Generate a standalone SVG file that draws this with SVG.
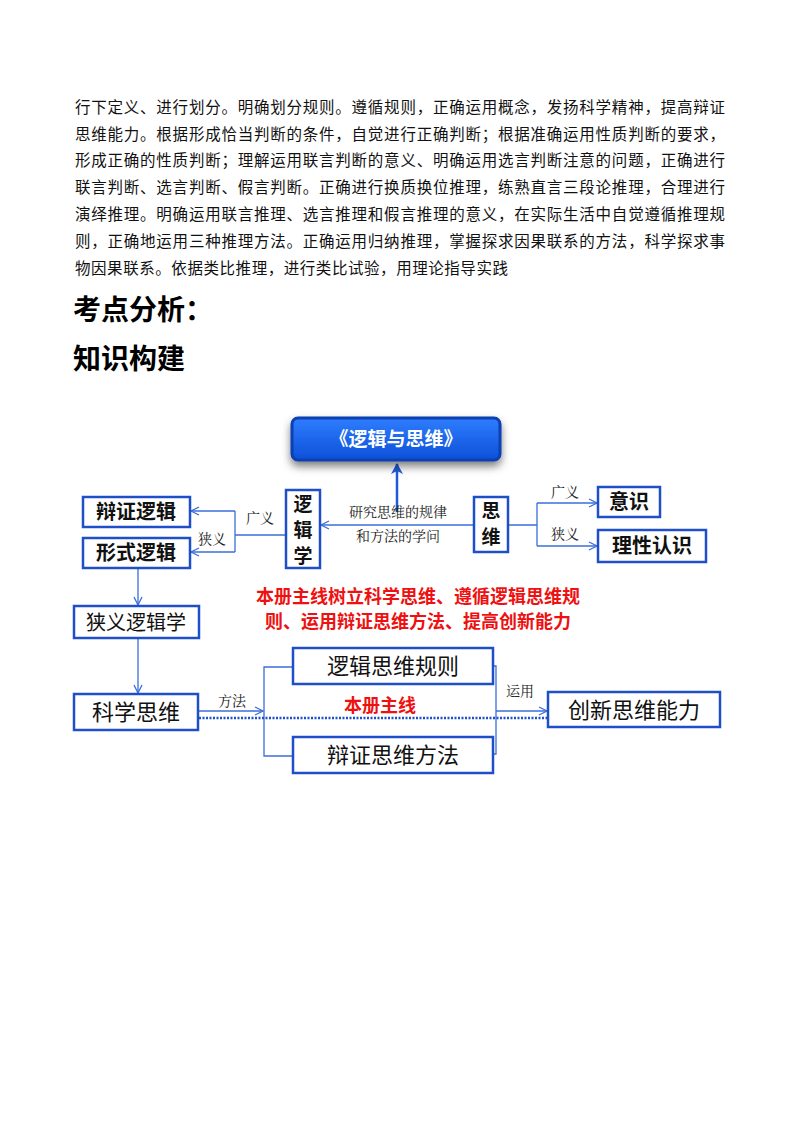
<svg xmlns="http://www.w3.org/2000/svg" width="800" height="1132" viewBox="0 0 800 1132">
<style>
.p{font-family:"Noto Sans CJK SC",sans-serif;font-size:15.5px;fill:#111}
.h{font-family:"Noto Sans CJK SC",sans-serif;font-size:28px;font-weight:bold;fill:#000}
.b{fill:#fff;stroke:#1f4fc8;stroke-width:2.5}
.t{font-family:"Noto Sans CJK SC",sans-serif;font-size:20px;font-weight:bold;fill:#111;text-anchor:middle}
.v{font-family:"Noto Sans CJK SC",sans-serif;font-size:19px;font-weight:bold;fill:#111;text-anchor:middle}
.n{font-family:"Noto Sans CJK SC",sans-serif;font-size:22px;fill:#111;text-anchor:middle}
.l{font-family:"Noto Serif CJK SC","Noto Sans CJK SC",serif;font-size:14px;fill:#222;text-anchor:middle}
.r{font-family:"Noto Sans CJK SC",sans-serif;font-size:18px;font-weight:bold;fill:#ee1111;text-anchor:middle}
.c{fill:none;stroke:#3a6fd8;stroke-width:1.3}
</style>
<defs>
<marker id="a" markerWidth="10" markerHeight="10" refX="9" refY="5" orient="auto" markerUnits="userSpaceOnUse"><path d="M1,1 L9,5 L1,9" fill="none" stroke="#3a6fd8" stroke-width="1.3"/></marker>
<marker id="a2" markerWidth="12" markerHeight="12" refX="10" refY="6" orient="auto" markerUnits="userSpaceOnUse"><path d="M0,0 L11,6 L0,12 L3,6 Z" fill="#1f5ad8"/></marker>
<linearGradient id="g" x1="0" y1="0" x2="0" y2="1"><stop offset="0" stop-color="#2f7dff"/><stop offset="1" stop-color="#0d50d8"/></linearGradient>
<filter id="s" x="-10%" y="-20%" width="120%" height="160%"><feDropShadow dx="0" dy="5" stdDeviation="4" flood-color="#000" flood-opacity="0.5"/></filter>
</defs>
<rect width="800" height="1132" fill="#fff"/>
<g id="text">
<text class="p" x="75" y="113" textLength="650" lengthAdjust="spacing">行下定义、进行划分。明确划分规则。遵循规则，正确运用概念，发扬科学精神，提高辩证</text>
<text class="p" x="75" y="140" textLength="650" lengthAdjust="spacing">思维能力。根据形成恰当判断的条件，自觉进行正确判断；根据准确运用性质判断的要求，</text>
<text class="p" x="75" y="166" textLength="650" lengthAdjust="spacing">形成正确的性质判断；理解运用联言判断的意义、明确运用选言判断注意的问题，正确进行</text>
<text class="p" x="75" y="193" textLength="650" lengthAdjust="spacing">联言判断、选言判断、假言判断。正确进行换质换位推理，练熟直言三段论推理，合理进行</text>
<text class="p" x="75" y="220" textLength="650" lengthAdjust="spacing">演绎推理。明确运用联言推理、选言推理和假言推理的意义，在实际生活中自觉遵循推理规</text>
<text class="p" x="75" y="247" textLength="650" lengthAdjust="spacing">则，正确地运用三种推理方法。正确运用归纳推理，掌握探求因果联系的方法，科学探求事</text>
<text class="p" x="75" y="274" textLength="433" lengthAdjust="spacing">物因果联系。依据类比推理，进行类比试验，用理论指导实践</text>
<text class="h" x="73" y="320">考点分析：</text>
<text class="h" x="73" y="369">知识构建</text>
</g>
<g id="connectors">
<path class="c" d="M474,525 H321" marker-end="url(#a)"/>
<path d="M397,512 V464" stroke="#1f5ad8" stroke-width="2.5" fill="none" marker-end="url(#a2)"/>
<path class="c" d="M286,535 H235 M235,511 V552"/>
<path class="c" d="M235,511 H191" marker-end="url(#a)"/>
<path class="c" d="M235,552 H191" marker-end="url(#a)"/>
<path class="c" d="M508,525 H537 M537,503 V546"/>
<path class="c" d="M537,503 H597" marker-end="url(#a)"/>
<path class="c" d="M537,546 H597" marker-end="url(#a)"/>
<path class="c" d="M138,569 V605" marker-end="url(#a)"/>
<path class="c" d="M138,639 V693" marker-end="url(#a)"/>
<path class="c" d="M199,711 H263" marker-end="url(#a)"/>
<path class="c" d="M293,667 H264 V756 H293"/>
<path class="c" d="M493,666 H496 V754 H493"/>
<path class="c" d="M496,711 H547" marker-end="url(#a)"/>
<path d="M199,718 H547" stroke="#1f4fc8" stroke-width="2.5" stroke-dasharray="2,1.5" fill="none"/>
<text class="l" x="398" y="517">研究思维的规律</text>
<text class="l" x="398" y="541">和方法的学问</text>
<text class="l" x="260" y="523">广义</text>
<text class="l" x="212" y="544">狭义</text>
<text class="l" x="565" y="497">广义</text>
<text class="l" x="565" y="539">狭义</text>
<text class="l" x="232" y="706">方法</text>
<text class="l" x="520" y="696">运用</text>
<text class="r" x="380" y="712">本册主线</text>
<text class="r" x="418" y="603">本册主线树立科学思维、遵循逻辑思维规</text>
<text class="r" x="418" y="628">则、运用辩证思维方法、提高创新能力</text>
</g>
<g id="title"><rect x="292" y="418" width="208" height="42" rx="6" fill="url(#g)" stroke="#0a3fb0" stroke-width="3" filter="url(#s)"/><text x="396" y="446" font-family="Noto Sans CJK SC,sans-serif" font-size="19" font-weight="bold" fill="#fff" text-anchor="middle">《逻辑与思维》</text></g>
<g id="bianzheng"><rect class="b" x="83" y="497" width="107" height="30"/><text class="t" x="136" y="519">辩证逻辑</text></g>
<g id="xingshi"><rect class="b" x="83" y="538" width="107" height="30"/><text class="t" x="136" y="560">形式逻辑</text></g>
<g id="luojixue"><rect class="b" x="286" y="490" width="34" height="78"/><text class="v" x="303" y="511">逻</text><text class="v" x="303" y="537">辑</text><text class="v" x="303" y="563">学</text></g>
<g id="siwei"><rect class="b" x="474" y="497" width="34" height="55"/><text class="v" x="491" y="518">思</text><text class="v" x="491" y="544">维</text></g>
<g id="yishi"><rect class="b" x="598" y="487" width="62" height="30"/><text class="t" x="629" y="509">意识</text></g>
<g id="lixing"><rect class="b" x="598" y="530" width="108" height="32"/><text class="t" x="652" y="553">理性认识</text></g>
<g id="xiayi"><rect class="b" x="74" y="606" width="125" height="32"/><text class="n" x="136" y="630" style="font-size:20px">狭义逻辑学</text></g>
<g id="kexue"><rect class="b" x="74" y="694" width="124" height="36"/><text class="n" x="136" y="720">科学思维</text></g>
<g id="guize"><rect class="b" x="293" y="648" width="200" height="36"/><text class="n" x="393" y="674">逻辑思维规则</text></g>
<g id="fangfa"><rect class="b" x="293" y="737" width="200" height="36"/><text class="n" x="393" y="763">辩证思维方法</text></g>
<g id="chuangxin"><rect class="b" x="548" y="692" width="172" height="35"/><text class="n" x="634" y="718">创新思维能力</text></g>
</svg>
